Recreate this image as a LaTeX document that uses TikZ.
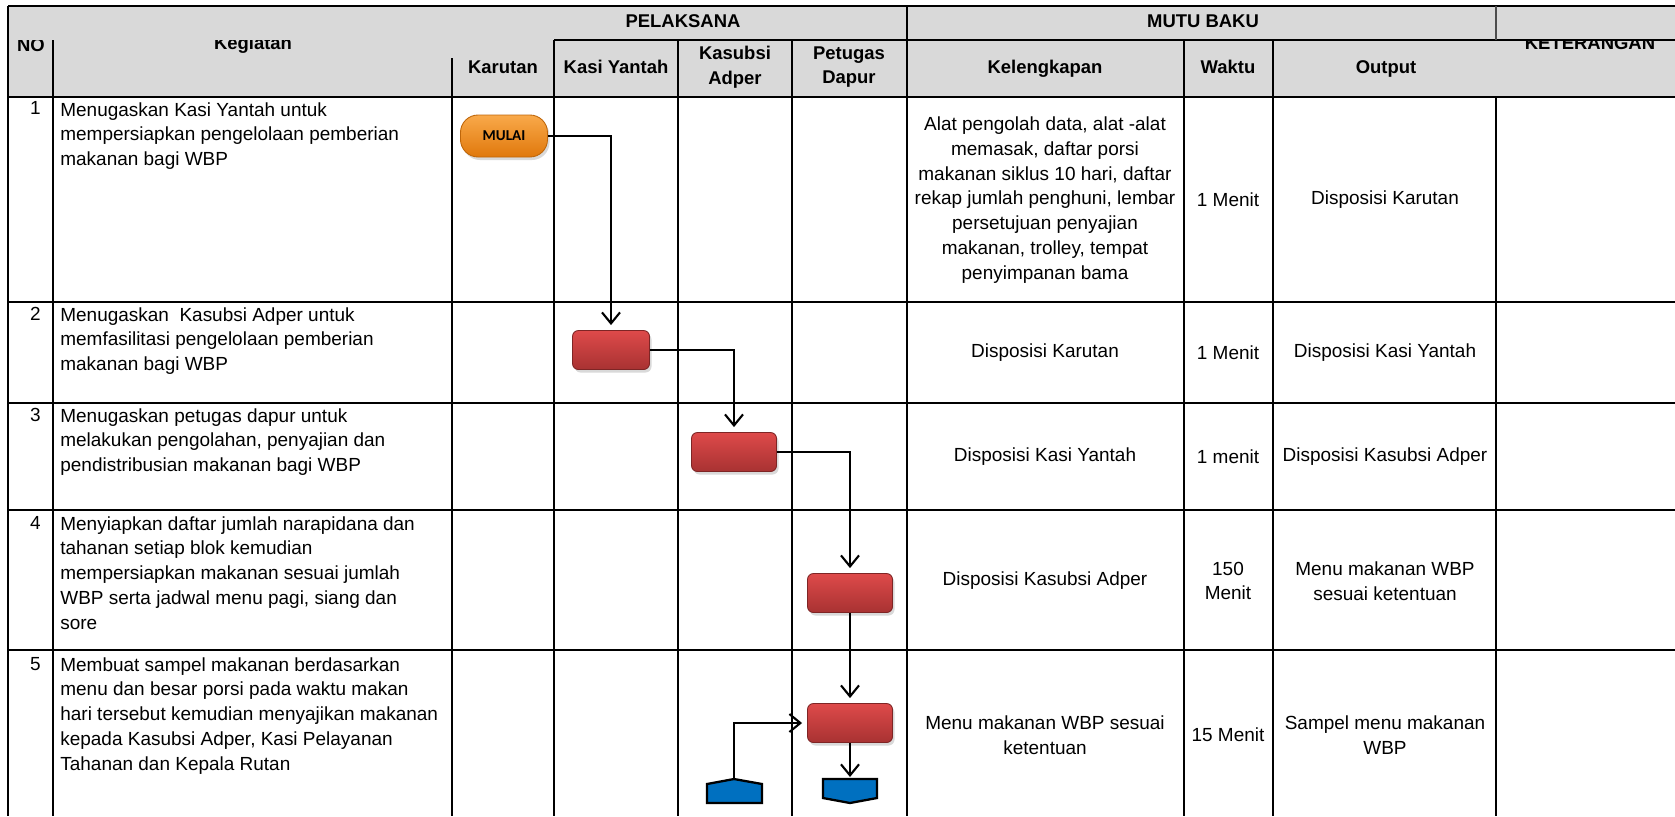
\documentclass[tikz,border=0pt]{standalone}
\usepackage{fontspec}
\setmainfont{Liberation Sans}
\newfontfamily\calfont{Carlito}
\usetikzlibrary{arrows.meta,shadows}
\definecolor{hdrgray}{HTML}{D9D9D9}
\definecolor{redtop}{HTML}{DE4A4A}
\definecolor{redbot}{HTML}{A83232}
\definecolor{orgtop}{HTML}{F9A94A}
\definecolor{orgbot}{HTML}{E0780C}
\definecolor{connblue}{HTML}{0070C0}

\begin{document}
\begin{tikzpicture}[x=0.2mm,y=0.2mm]
		\tikzstyle{every node}+=[inner sep=0pt]
		\tikzstyle{grid}=[black, line width=1.4pt]
		\tikzstyle{hdr}=[font=\fontsize{10.5}{14.1}\selectfont\bfseries, align=center]
		\tikzstyle{isi}=[font=\fontsize{10.8}{14.1}\selectfont, align=center]
		\tikzstyle{kegiatan}=[font=\fontsize{10.8}{14.1}\selectfont, align=left, anchor=north west]
		\tikzstyle{nomor}=[font=\fontsize{10.8}{14.1}\selectfont, anchor=north east]
		\tikzstyle{proses}=[draw=redbot!75!black, line width=0.5pt, rounded corners=1.2mm, top color=redtop, bottom color=redbot, minimum width=17mm, minimum height=7.8mm, drop shadow={opacity=0.3, shadow xshift=0.4mm, shadow yshift=-0.6mm}]
		\tikzstyle{mulai}=[draw=orgbot!85!black, line width=0.5pt, rounded corners=3.5mm, top color=orgtop, bottom color=orgbot, minimum width=17.4mm, minimum height=8.4mm, drop shadow={opacity=0.3, shadow xshift=0.4mm, shadow yshift=-0.6mm}, font=\calfont\fontsize{8.6}{9}\selectfont\bfseries]
		\tikzstyle{alur}=[black, line width=1.2pt, shorten >=1mm, -{Straight Barb[length=2.2mm,width=3.6mm]}]
		\tikzstyle{konektor}=[fill=connblue, draw=black, line width=1.3pt, line join=miter]
		\useasboundingbox (0,0) rectangle (1675,-816);
		% header band
		\fill [hdrgray] (8,-6) rectangle (1675,-97);
		\begin{scope}
		\clip (0,-40) rectangle (1675,-97);
		\node [hdr, anchor=base] (hno) at (31,-51) {NO};
		\node [hdr, anchor=base] (hkeg) at (253,-49) {Kegiatan};
		\node [hdr, anchor=base] (hket) at (1590,-49) {KETERANGAN};
		\end{scope}
		\node [hdr, anchor=base] (hpel) at (683,-27) {PELAKSANA};
		\node [hdr, anchor=base] (hmutu) at (1203,-27) {MUTU BAKU};
		\node [hdr, anchor=base] (hkar) at (503,-73) {Karutan};
		\node [hdr, anchor=base] (hkasi) at (616,-73) {Kasi Yantah};
		\node [hdr] (hkasub) at (735,-67) {Kasubsi\\Adper};
		\node [hdr] (hpet) at (849,-67) {Petugas\\Dapur};
		\node [hdr, anchor=base] (hkel) at (1045,-73) {Kelengkapan};
		\node [hdr, anchor=base] (hwak) at (1228,-73) {Waktu};
		\node [hdr, anchor=base] (hout) at (1386,-73) {Output};
		% grid lines
		\draw [grid] (8,-6) -- (1675,-6);
		\draw [grid] (554,-40) -- (1675,-40);
		\foreach \y in {97,302,403,510,650}
			\draw [grid] (8,-\y) -- (1675,-\y);
		\draw [grid] (8,-6) -- (8,-816);
		\draw [grid] (53,-40) -- (53,-816);
		\draw [grid] (452,-58) -- (452,-816);
		\foreach \x in {554,678,792,1184,1273}
			\draw [grid] (\x,-40) -- (\x,-816);
		\draw [grid] (907,-6) -- (907,-816);
		\draw [gray!60!black, line width=0.8pt] (1496,-6) -- (1496,-40);
		\draw [grid] (1496,-97) -- (1496,-816);
		% nomor and kegiatan
		\node [nomor] (n1) at (41,-101) {1};
		\node [nomor] (n2) at (41,-307) {2};
		\node [nomor] (n3) at (41,-408) {3};
		\node [nomor] (n4) at (41,-516) {4};
		\node [nomor] (n5) at (41,-657) {5};
		\node [kegiatan] (k1) at (60,-102) {Menugaskan Kasi Yantah untuk\\mempersiapkan pengelolaan pemberian\\makanan bagi WBP};
		\node [kegiatan] (k2) at (60,-307) {Menugaskan \ Kasubsi Adper untuk\\memfasilitasi pengelolaan pemberian\\makanan bagi WBP};
		\node [kegiatan] (k3) at (60,-408) {Menugaskan petugas dapur untuk\\melakukan pengolahan, penyajian dan\\pendistribusian makanan bagi WBP};
		\node [kegiatan] (k4) at (60,-516) {Menyiapkan daftar jumlah narapidana dan\\tahanan setiap blok kemudian\\mempersiapkan makanan sesuai jumlah\\WBP serta jadwal menu pagi, siang dan\\sore};
		\node [kegiatan] (k5) at (60,-657) {Membuat sampel makanan berdasarkan\\menu dan besar porsi pada waktu makan\\hari tersebut kemudian menyajikan makanan\\kepada Kasubsi Adper, Kasi Pelayanan\\Tahanan dan Kepala Rutan};
		% mutu baku
		\node [isi] (kel1) at (1045,-200) {Alat pengolah data, alat -alat\\memasak, daftar porsi\\makanan siklus 10 hari, daftar\\rekap jumlah penghuni, lembar\\persetujuan penyajian\\makanan, trolley, tempat\\penyimpanan bama};
		\node [isi] (w1) at (1228,-200) {1 Menit};
		\node [isi] (o1) at (1385,-200) {Disposisi Karutan};
		\node [isi] (kel2) at (1045,-353) {Disposisi Karutan};
		\node [isi] (w2) at (1228,-353) {1 Menit};
		\node [isi] (o2) at (1385,-353) {Disposisi Kasi Yantah};
		\node [isi] (kel3) at (1045,-457) {Disposisi Kasi Yantah};
		\node [isi] (w3) at (1228,-457) {1 menit};
		\node [isi] (o3) at (1385,-457) {Disposisi Kasubsi Adper};
		\node [isi] (kel4) at (1045,-581) {Disposisi Kasubsi Adper};
		\node [isi] (w4) at (1228,-581) {150\\Menit};
		\node [isi] (o4) at (1385,-581) {Menu makanan WBP\\sesuai ketentuan};
		\node [isi] (kel5) at (1045,-735) {Menu makanan WBP sesuai\\ketentuan};
		\node [isi] (w5) at (1228,-735) {15 Menit};
		\node [isi] (o5) at (1385,-735) {Sampel menu makanan\\WBP};
		% flow
		\node [mulai] (mulai) at (504,-136) {MULAI};
		\node [proses, minimum width=15.4mm] (p1) at (611,-350) {};
		\node [proses] (p2) at (734,-452) {};
		\node [proses] (p3) at (850,-593) {};
		\node [proses] (p4) at (850,-723) {};
		\coordinate (offup) at (734,-779);
		\coordinate (offdn) at (850,-779);
		\filldraw [konektor] (707,-784) -- (offup) -- (762,-784) -- (762,-803) -- (707,-803) -- cycle;
		\filldraw [konektor] (823,-779) -- (877,-779) -- (877,-798) -- (850,-803) -- (823,-798) -- cycle;
		\draw [alur] (mulai.east) -| (p1.north);
		\draw [alur] (p1.east) -| (p2.north);
		\draw [alur] (p2.east) -| (p3.north);
		\draw [alur] (p3.south) -- (p4.north);
		\draw [alur, shorten >=0.4mm] (p4.south) -- (offdn);
		\draw [alur] (offup) |- (p4.west);
\end{tikzpicture}
\end{document}
